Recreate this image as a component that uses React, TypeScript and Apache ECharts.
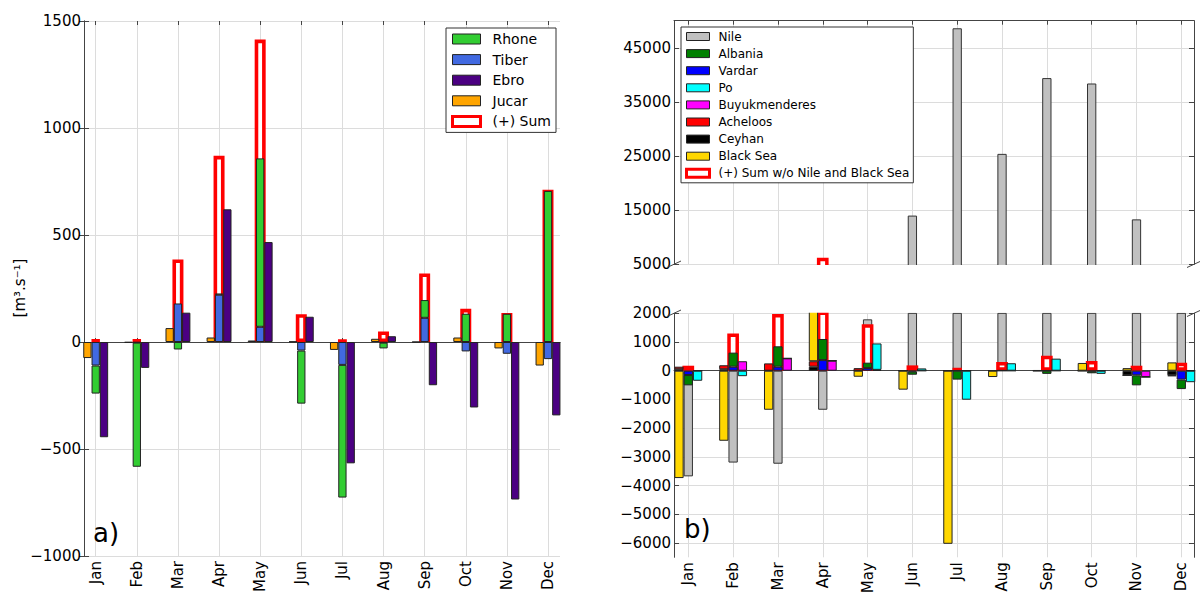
import React, { useEffect, useRef } from 'react';
import * as echarts from 'echarts';

// ---------- data ----------
const months = ['Jan', 'Feb', 'Mar', 'Apr', 'May', 'Jun', 'Jul', 'Aug', 'Sep', 'Oct', 'Nov', 'Dec'];

// panel a) [m3/s]
const jucar = [-75, -3, 65, 21, 7, 2, -37, 15, 0, 21, -30, -110];
const tiber = [-110, -3, 180, 221, 71, -40, -107, -3, 113, -44, -55, -80];
const rhone = [-131, -580, -35, 5, 787, -248, -620, -27, 83, 132, 132, 706];
const ebro = [-445, -121, 137, 620, 467, 118, -567, 27, -202, -306, -736, -343];
const sumA = [12, 12, 386, 870, 1413, 130, 10, 49, 320, 155, 135, 712];

// panel b) [m3/s]
const nile = [-3680, -3200, -3240, -1360, 1790, 14000, 48600, 25400, 39400, 38400, 13300, 3500];
const albania = [-360, 490, 710, 735, 190, -110, -310, 20, -110, -70, -350, -330];
const vardar = [-150, 140, 140, 370, 90, -30, 0, 0, 0, -20, -160, -310];
const po = [-350, -190, 0, 0, 920, 80, -1010, 260, 420, -110, 0, -400];
const buyukmenderes = [0, 330, 430, 350, 30, 0, 0, 0, 0, 0, -220, 0];
const acheloos = [90, 140, 255, 190, 90, 0, 0, 0, 0, 0, 0, -30];
const ceyhan = [50, 50, 0, 140, 0, 0, 0, 0, 0, 0, -160, -160];
const blackSea = [-3740, -2440, -1360, 3000, -210, -660, -6030, -220, 15, 270, 90, 290];
const sumB = [174, 1300, 1975, 6220, 1615, 186, 80, 300, 520, 337, 174, 279];

// tick labels
const ticksA = [-1000, -500, 0, 500, 1000, 1500];
const ticksBUpper = [5000, 15000, 25000, 35000, 45000];
const ticksBLower = [-6000, -5000, -4000, -3000, -2000, -1000, 0, 1000, 2000];

// ---------- styles ----------
const FONT = 'DejaVu Sans';
const AXIS_COLOR = '#444';
const GRID_COLOR = '#dcdcdc';
const EDGE = '#222';
const SUM_NAME_A = '(+) Sum';
const SUM_NAME_B = '(+) Sum w/o Nile and Black Sea';

const fmt = (v: number) => (v < 0 ? '\u2212' + Math.abs(v) : String(v));

const frameLine = { show: true, lineStyle: { color: AXIS_COLOR, width: 1 } };
const inTick = (len: number) => ({ show: true, inside: true, length: len, lineStyle: { color: AXIS_COLOR, width: 1 } });
const split = { show: true, lineStyle: { color: GRID_COLOR, width: 1 } };
const yLabel = { show: true, fontSize: 15, color: '#000', fontFamily: FONT, margin: 3, formatter: fmt };
const xLabel = { show: true, rotate: 90, interval: 0, fontSize: 15, color: '#000', fontFamily: FONT, margin: 5 };

const frameX = (gridIndex: number, position: string) => ({
  type: 'value', gridIndex, position, min: 0, max: 1,
  axisLine: frameLine, axisTick: { show: false }, axisLabel: { show: false }, splitLine: { show: false },
});
const catX = (gridIndex: number, position: string, opts: any = {}) => ({
  type: 'category', gridIndex, position, data: months, boundaryGap: false,
  axisLine: { show: false }, axisTick: { show: false }, axisLabel: { show: false }, splitLine: { show: false },
  ...opts,
});
const valY = (gridIndex: number, position: string, min: number, max: number, opts: any = {}) => ({
  type: 'value', gridIndex, position, min, max,
  axisLine: frameLine, axisTick: inTick(5), axisLabel: { show: false }, splitLine: { show: false },
  ...opts,
});

const bar = (name: string, data: number[], color: string, xAxisIndex: number, yAxisIndex: number,
  width: number, stack?: string, extra: any = {}) => ({
  type: 'bar', name, data, stack, xAxisIndex, yAxisIndex, barWidth: width, barGap: '0%',
  clip: false, emphasis: { disabled: true },
  itemStyle: { color, borderColor: EDGE, borderWidth: 1 },
  ...extra,
});
const sumStyleA = { color: '#ffffff', borderColor: '#ff0000', borderWidth: 3.6 };
const sumStyleB = { color: '#ffffff', borderColor: '#ff0000', borderWidth: 3.5 };
const nileStyle = { color: '#C0C0C0', borderColor: '#333', borderWidth: 1 };

const WA = 8.3;
const WB = 9.3;
const WSA = 11;
const WSB = 11.7;

const option: any = {
  animation: false,
  textStyle: { fontFamily: FONT },
  grid: [
    { left: 84, top: 21, width: 476, height: 535 },
    { left: 95.7, top: 21, width: 452.3, height: 535 },
    { left: 674, top: 20.7, width: 520, height: 243.6 },
    { left: 688.3, top: 20.7, width: 493, height: 243.6 },
    { left: 674, top: 313.3, width: 520, height: 244 },
    { left: 688.3, top: 313.3, width: 493, height: 244 },
  ],
  xAxis: [
    frameX(0, 'bottom'), // 0
    frameX(0, 'top'), // 1
    catX(1, 'bottom', { axisTick: { ...inTick(4), interval: 0 }, axisLabel: xLabel, splitLine: split }), // 2
    catX(1, 'top', { axisTick: { ...inTick(4), interval: 0 } }), // 3
    { ...catX(1, 'bottom'), show: false }, // 4 sum a
    frameX(2, 'top'), // 5
    catX(3, 'top', { axisTick: { ...inTick(4), interval: 0 }, splitLine: split }), // 6
    { ...catX(3, 'bottom'), show: false }, // 7 nile upper
    { ...catX(3, 'bottom'), show: false }, // 8 sum upper
    frameX(4, 'bottom'), // 9
    catX(5, 'bottom', { axisTick: { ...inTick(4), interval: 0 }, axisLabel: xLabel, splitLine: split }), // 10
    { ...catX(5, 'bottom'), show: false }, // 11 nile lower
    { ...catX(5, 'bottom'), show: false }, // 12 sum lower
  ],
  yAxis: [
    valY(0, 'left', -1000, 1500, {
      axisTick: { ...inTick(5), customValues: ticksA },
      axisLabel: { ...yLabel, customValues: ticksA }, splitLine: split,
    }), // 0
    valY(0, 'right', -1000, 1500, { axisTick: { ...inTick(5), customValues: ticksA } }), // 1
    { type: 'value', gridIndex: 1, min: -1000, max: 1500, show: false }, // 2
    valY(2, 'left', 5000, 50000, {
      axisTick: { ...inTick(5), customValues: ticksBUpper },
      axisLabel: { ...yLabel, customValues: ticksBUpper }, splitLine: split,
    }), // 3
    valY(2, 'right', 5000, 50000, { axisTick: { ...inTick(5), customValues: ticksBUpper } }), // 4
    { type: 'value', gridIndex: 3, min: 5000, max: 50000, show: false }, // 5
    valY(4, 'left', -6500, 2000, {
      axisTick: { ...inTick(5), customValues: ticksBLower },
      axisLabel: { ...yLabel, customValues: ticksBLower }, splitLine: split,
    }), // 6
    valY(4, 'right', -6500, 2000, { axisTick: { ...inTick(5), customValues: ticksBLower } }), // 7
    { type: 'value', gridIndex: 5, min: -6500, max: 2000, show: false }, // 8
  ],
  legend: [
    {
      left: 446, top: 28, orient: 'vertical', selectedMode: false,
      itemWidth: 28, itemHeight: 10, itemGap: 6.6, icon: 'rect',
      padding: [4, 5, 4, 5], backgroundColor: '#fff', borderColor: '#333', borderWidth: 1, borderRadius: 0,
      textStyle: { fontFamily: FONT, fontSize: 14, lineHeight: 14, color: '#000', padding: [0, 0, 0, 7] },
      data: [
        { name: 'Rhone', itemStyle: { color: '#32CD32', borderColor: EDGE, borderWidth: 1 } },
        { name: 'Tiber', itemStyle: { color: '#4169E1', borderColor: EDGE, borderWidth: 1 } },
        { name: 'Ebro', itemStyle: { color: '#4B0082', borderColor: EDGE, borderWidth: 1 } },
        { name: 'Jucar', itemStyle: { color: '#FFA500', borderColor: EDGE, borderWidth: 1 } },
        { name: SUM_NAME_A, itemStyle: { color: '#fff', borderColor: '#ff0000', borderWidth: 3 } },
      ],
    },
    {
      left: 681, top: 27, orient: 'vertical', selectedMode: false,
      itemWidth: 23, itemHeight: 8, itemGap: 5.1, icon: 'rect',
      padding: [3.5, 4, 3.5, 4], backgroundColor: '#fff', borderColor: '#333', borderWidth: 1, borderRadius: 0,
      textStyle: { fontFamily: FONT, fontSize: 12, lineHeight: 12, color: '#000', padding: [0, 0, 0, 4] },
      data: [
        { name: 'Nile', itemStyle: { color: '#C0C0C0', borderColor: EDGE, borderWidth: 1 } },
        { name: 'Albania', itemStyle: { color: '#008000', borderColor: EDGE, borderWidth: 1 } },
        { name: 'Vardar', itemStyle: { color: '#0000FF', borderColor: EDGE, borderWidth: 1 } },
        { name: 'Po', itemStyle: { color: '#00FFFF', borderColor: EDGE, borderWidth: 1 } },
        { name: 'Buyukmenderes', itemStyle: { color: '#FF00FF', borderColor: EDGE, borderWidth: 1 } },
        { name: 'Acheloos', itemStyle: { color: '#FF0000', borderColor: EDGE, borderWidth: 1 } },
        { name: 'Ceyhan', itemStyle: { color: '#000000', borderColor: EDGE, borderWidth: 1 } },
        { name: 'Black Sea', itemStyle: { color: '#FFD700', borderColor: EDGE, borderWidth: 1 } },
        { name: SUM_NAME_B, itemStyle: { color: '#fff', borderColor: '#ff0000', borderWidth: 3 } },
      ],
    },
  ],
  series: [
    // panel a (sum outline behind the bars)
    bar(SUM_NAME_A, sumA, '', 4, 2, WSA, undefined, { itemStyle: sumStyleA }),
    bar('Jucar', jucar, '#FFA500', 2, 2, WA, 'aL'),
    bar('Tiber', tiber, '#4169E1', 2, 2, WA, 'aC'),
    bar('Rhone', rhone, '#32CD32', 2, 2, WA, 'aC'),
    bar('Ebro', ebro, '#4B0082', 2, 2, WA, 'aR'),
    // panel b upper
    bar('Nile', nile, '#C0C0C0', 7, 5, WB, undefined, { itemStyle: nileStyle }),
    bar(SUM_NAME_B, sumB, '', 8, 5, WSB, undefined, { itemStyle: sumStyleB }),
    // panel b lower
    bar('Nile', nile, '#C0C0C0', 11, 8, WB, undefined, { clip: true, itemStyle: nileStyle }),
    bar(SUM_NAME_B, sumB, '', 12, 8, WSB, undefined, { clip: true, itemStyle: sumStyleB }),
    bar('Ceyhan', ceyhan, '#000000', 10, 8, WB, 'bL'),
    bar('Acheloos', acheloos, '#FF0000', 10, 8, WB, 'bL'),
    bar('Black Sea', blackSea, '#FFD700', 10, 8, WB, 'bL'),
    bar('Vardar', vardar, '#0000FF', 10, 8, WB, 'bC'),
    bar('Albania', albania, '#008000', 10, 8, WB, 'bC'),
    bar('Buyukmenderes', buyukmenderes, '#FF00FF', 10, 8, WB, 'bR'),
    bar('Po', po, '#00FFFF', 10, 8, WB, 'bR'),
  ],
  graphic: {
    elements: [
      {
        type: 'text', x: 20, y: 288, rotation: Math.PI / 2, z: 100,
        style: { text: '[m\u00B3.s\u207B\u00B9]', fontSize: 15, fontFamily: FONT, fill: '#000', align: 'center', verticalAlign: 'middle' },
      },
      {
        type: 'text', x: 93, y: 533, z: 100,
        style: { text: 'a)', fontSize: 26, fontFamily: FONT, fill: '#000', align: 'left', verticalAlign: 'middle' },
      },
      {
        type: 'text', x: 684, y: 529, z: 100,
        style: { text: 'b)', fontSize: 26, fontFamily: FONT, fill: '#000', align: 'left', verticalAlign: 'middle' },
      },
      {
        type: 'rect', z: 100, shape: { x: 674.5, y: 265, width: 519, height: 47.8 },
        style: { fill: '#fff' },
      },
      { type: 'line', z: 101, shape: { x1: 667, y1: 267.5, x2: 681, y2: 261 }, style: { stroke: AXIS_COLOR, lineWidth: 1 } },
      { type: 'line', z: 101, shape: { x1: 1187, y1: 267.5, x2: 1200, y2: 261.5 }, style: { stroke: AXIS_COLOR, lineWidth: 1 } },
      { type: 'line', z: 101, shape: { x1: 667, y1: 316.5, x2: 681, y2: 310 }, style: { stroke: AXIS_COLOR, lineWidth: 1 } },
      { type: 'line', z: 101, shape: { x1: 1187, y1: 316.5, x2: 1200, y2: 310.5 }, style: { stroke: AXIS_COLOR, lineWidth: 1 } },
    ],
  },
};

export default function App() {
  const ref = useRef<HTMLDivElement>(null);
  useEffect(() => {
    document.body.style.margin = '0';
    const chart = echarts.init(ref.current as HTMLDivElement, undefined, { renderer: 'svg', width: 1200, height: 597 });
    chart.setOption(option);
    return () => chart.dispose();
  }, []);
  return <div ref={ref} style={{ width: 1200, height: 597, background: '#fff' }} />;
}
